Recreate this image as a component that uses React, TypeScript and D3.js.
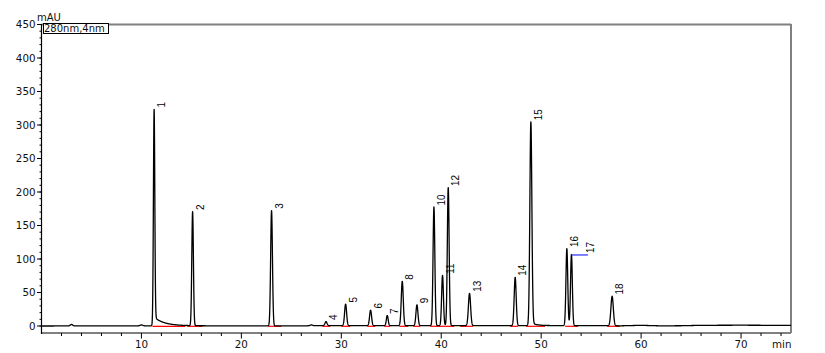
import React from 'react';
import * as d3 from 'd3';

// ---- data ----
const peakLabels = ['1','2','3','4','5','6','7','8','9','10','11','12','13','14','15','16','17','18'];
const peakTimes = [11.27, 15.12, 23.02, 28.47, 30.43, 32.93, 34.6, 36.1, 37.57, 39.27, 40.13, 40.7, 42.83, 47.4, 48.97, 52.57, 53.03, 57.1];
const peakHeights = [323, 170, 172, 6, 32, 23, 15, 66, 31, 177, 75, 206, 48, 72, 304, 115, 106, 44];
const peakSigmas = [0.07, 0.08, 0.09, 0.1, 0.1, 0.1, 0.09, 0.1, 0.1, 0.09, 0.09, 0.09, 0.11, 0.1, 0.1, 0.09, 0.09, 0.12];
const tailPeaks = [0, 14];           // indices of tailing peaks
const tailAmps = [12, 4];
const tailTaus = [1.0, 0.5];
const bumpTimes = [3.0, 10.0, 27.0];
const bumpHeights = [2.2, 1.3, 1.2];
const driftTimes = [0, 10, 26, 28, 55, 58, 60, 62, 64, 66, 70, 75];
const driftValues = [0, 0.3, 0.2, 0.6, 0.6, 0.3, 1.0, 0.2, 0.4, 1.0, 1.2, 0.9];
const baselineStarts = [11.1, 14.6, 22.7, 28.1, 30.0, 32.6, 34.3, 35.8, 37.2, 38.9, 39.7, 40.4, 41.9, 46.9, 48.5, 52.4, 52.9, 56.6];
const baselineEnds = [14.4, 16.1, 24.0, 28.9, 30.9, 33.4, 34.9, 36.7, 37.9, 39.7, 40.4, 41.3, 43.2, 47.7, 50.4, 52.9, 53.7, 57.9];
const xTicks = [10, 20, 30, 40, 50, 60, 70];
const yTicks = [0, 50, 100, 150, 200, 250, 300, 350, 400, 450];
const legendText = '280nm,4nm';
const yUnit = 'mAU';
const xUnit = 'min';

const W = 825, H = 353;
const x = d3.scaleLinear().domain([0, 75]).range([41.5, 791]);
const y = d3.scaleLinear().domain([0, 450]).range([326, 24.5]);

function signal(t: number): number {
  let i = d3.bisectRight(driftTimes, t) - 1;
  i = Math.max(0, Math.min(driftTimes.length - 2, i));
  const f = (t - driftTimes[i]) / (driftTimes[i + 1] - driftTimes[i]);
  let v = driftValues[i] + f * (driftValues[i + 1] - driftValues[i]);
  peakTimes.forEach((pt, k) => {
    const s = peakSigmas[k];
    v += peakHeights[k] * Math.exp(-0.5 * ((t - pt) / s) ** 2);
  });
  tailPeaks.forEach((k, j) => {
    const t0 = peakTimes[k] + 0.08;
    if (t > t0) {
      const dt = t - t0;
      v += tailAmps[j] * Math.exp(-dt / tailTaus[j]) * (1 - Math.exp(-((dt / 0.08) ** 2)));
    }
  });
  bumpTimes.forEach((bt, k) => {
    v += bumpHeights[k] * Math.exp(-0.5 * ((t - bt) / 0.12) ** 2);
  });
  return v;
}

export default function App() {
  const times = d3.range(0, 75.0001, 0.01);
  const line = d3.line<number>().x((t) => x(t)).y((t) => y(signal(t)));
  const path = line(times) || '';

  const xMinor = d3.range(2, 75, 2);
  const yMinor = d3.range(0, 451, 10);
  const tickFont = '"DejaVu Sans", Arial, sans-serif';
  const labelFont = '"Liberation Sans", Arial, sans-serif';

  return (
    <svg width={W} height={H} style={{ position: 'absolute', left: 0, top: 0, background: '#fff' }}>
      {/* frame */}
      <line x1={x(0)} x2={791} y1={24.5} y2={24.5} stroke="#808080" strokeWidth={2} />
      <line x1={791} x2={791} y1={24} y2={333} stroke="#808080" strokeWidth={2} />
      <line x1={x(0)} x2={791} y1={333} y2={333} stroke="#808080" strokeWidth={2} />
      <line x1={41.5} x2={41.5} y1={24} y2={334} stroke="#000" strokeWidth={1.2} />

      {/* y ticks */}
      {yMinor.map((v) => (
        <line key={'ym' + v} x1={39.5} x2={41.5} y1={y(v)} y2={y(v)} stroke="#000" strokeWidth={1} />
      ))}
      {yTicks.map((v) => (
        <g key={'y' + v}>
          <line x1={37} x2={41.5} y1={y(v)} y2={y(v)} stroke="#000" strokeWidth={1} />
          <text x={35.5} y={y(v) + 3.6} textAnchor="end" fontSize={10.3} fontFamily={tickFont} fill="#111">{v}</text>
        </g>
      ))}
      <text x={37} y={20.5} fontSize={10} fontFamily={tickFont} fill="#111">{yUnit}</text>

      {/* x ticks */}
      {xMinor.map((v) => (
        <line key={'xm' + v} x1={x(v)} x2={x(v)} y1={333} y2={xTicks.includes(v) ? 338.5 : 336} stroke="#000" strokeWidth={1} />
      ))}
      {xTicks.map((v) => (
        <text key={'x' + v} x={x(v)} y={347.7} textAnchor="middle" fontSize={10.3} fontFamily={tickFont} fill="#111">{v}</text>
      ))}
      <text x={772} y={347.7} fontSize={10.3} fontFamily={tickFont} fill="#111">{xUnit}</text>

      {/* legend box */}
      <rect x={43.5} y={23.5} width={65} height={10} fill="#fff" stroke="#000" strokeWidth={1} />
      <text x={44} y={32.3} fontSize={10} fontFamily={tickFont} fill="#111">{legendText}</text>

      {/* red baselines */}
      {baselineStarts.map((s, k) => (
        <line key={'bl' + k} x1={x(s)} x2={x(baselineEnds[k])} y1={y(0) + 0.3} y2={y(0) + 0.3} stroke="#ff0000" strokeWidth={1.2} />
      ))}

      {/* trace */}
      <path d={path} fill="none" stroke="#000" strokeWidth={1.3} strokeLinejoin="round" />

      {/* peak labels */}
      {peakLabels.map((lab, k) => {
        const px = x(peakTimes[k]);
        const py = y(peakHeights[k]);
        const isLeader = lab === '17';
        const lx = isLeader ? px + 16.5 + 2 : px + 7.5;
        return (
          <g key={'pl' + k}>
            {isLeader && <line x1={px} x2={px + 16.5} y1={py} y2={py} stroke="#0000ff" strokeWidth={1} />}
            <text
              transform={`translate(${lx},${py - 2}) rotate(-90) scale(0.9,1)`}
              dominantBaseline="central"
              fontSize={11}
              fontFamily={labelFont}
              fill="#000"
            >
              {lab}
            </text>
          </g>
        );
      })}
    </svg>
  );
}
